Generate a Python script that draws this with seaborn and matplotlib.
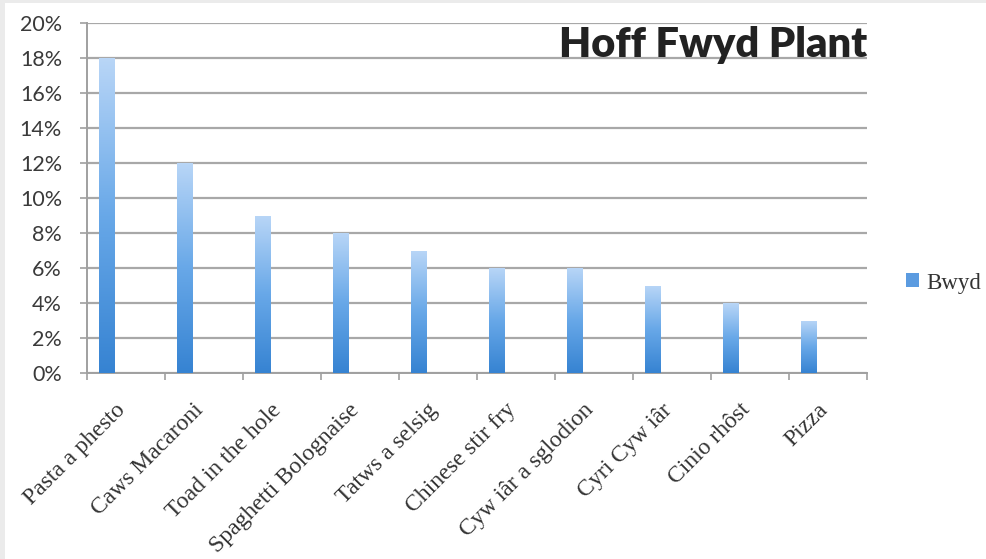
import numpy as np
import pandas as pd
import matplotlib
matplotlib.use("Agg")
import matplotlib.pyplot as plt
from matplotlib.patches import Rectangle
from matplotlib.colors import LinearSegmentedColormap
from matplotlib.ticker import FuncFormatter, FixedLocator
import seaborn as sns

categories = ["Pasta a phesto", "Caws Macaroni", "Toad in the hole", "Spaghetti Bolognaise",
              "Tatws a selsig", "Chinese stir fry", "Cyw iâr a sglodion", "Cyri Cyw iâr",
              "Cinio rhôst", "Pizza"]
values = [18, 12, 9, 8, 7, 6, 6, 5, 4, 3]
series_name = "Bwyd"
title = "Hoff Fwyd Plant"
yticks = [0, 2, 4, 6, 8, 10, 12, 14, 16, 18, 20]

df = pd.DataFrame({"food": categories, "pct": values})

sns.set_theme(style="white")
plt.rcParams["font.family"] = ["Lato", "DejaVu Sans"]

fig = plt.figure(figsize=(9.86, 5.59), dpi=100)
fig.patch.set_facecolor("#ebebeb")
fig.patches.append(Rectangle((5 / 986, 0), 1, 1 - 3 / 559, transform=fig.transFigure,
                             facecolor="white", edgecolor="none", zorder=-10))

ax = fig.add_axes([87 / 986, 1 - 373 / 559, 780 / 986, 350 / 559])
ax.set_facecolor("white")

sns.barplot(data=df, x="food", y="pct", color="#4a90dc", width=0.2, ax=ax,
            saturation=1, edgecolor="none", zorder=3)

# vertical gradient on bars
cmap = LinearSegmentedColormap.from_list("bar", ["#3683d2", "#68a8e8", "#b9d6f7"])
grad = np.linspace(0, 1, 256).reshape(-1, 1)
for p in list(ax.patches):
    x0, w, h = p.get_x(), p.get_width(), p.get_height()
    im = ax.imshow(grad, extent=[x0, x0 + w, 0, h], origin="lower", cmap=cmap,
                   aspect="auto", zorder=4, interpolation="bilinear")
    im.set_clip_path(p)

offset = 0.29
n = len(categories)
ax.set_xlim(-0.26, n - 0.26)
ax.set_ylim(0, 20)

ax.set_xticks(np.arange(n) + offset)
ax.set_xticklabels(categories, rotation=45, ha="right", rotation_mode="default",
                   fontsize=17, family=["Liberation Serif"], color="#333333")
ax.xaxis.set_minor_locator(FixedLocator(np.arange(n + 1) - 0.26))
ax.tick_params(axis="x", which="major", length=0, pad=19)
ax.tick_params(axis="x", which="minor", length=5, width=1.2, color="#a0a0a0", bottom=True)

ax.set_yticks(yticks)
ax.yaxis.set_major_formatter(FuncFormatter(lambda v, _: f"{v:.0f}%"))
ax.tick_params(axis="y", which="major", length=5, width=1.2, color="#a0a0a0", left=True,
               pad=13, labelsize=15.5, labelcolor="#3a3a3a")

ax.yaxis.grid(True, color="#a8a8a8", linewidth=1.6, zorder=0)
ax.set_axisbelow(True)
ax.set_xlabel("")
ax.set_ylabel("")
for s in ["top", "right"]:
    ax.spines[s].set_visible(False)
for s in ["left", "bottom"]:
    ax.spines[s].set_color("#a0a0a0")
    ax.spines[s].set_linewidth(1.4)

ax.text(1.0, 0.903, title, transform=ax.transAxes, ha="right", va="baseline",
        fontsize=30, fontweight="heavy", color="#222222", zorder=6)

# legend
handle = Rectangle((0, 0), 1, 1, facecolor="#5b9be0", edgecolor="none")
leg = fig.legend([handle], [series_name], loc="center left",
                 bbox_to_anchor=(906 / 986, 1 - 283 / 559), frameon=False,
                 borderpad=0, borderaxespad=0,
                 handlelength=0.55, handleheight=0.55, handletextpad=0.35,
                 prop={"family": "Liberation Serif", "size": 16.5})
for t in leg.get_texts():
    t.set_color("#333333")

fig.savefig("out.png", dpi=100)
